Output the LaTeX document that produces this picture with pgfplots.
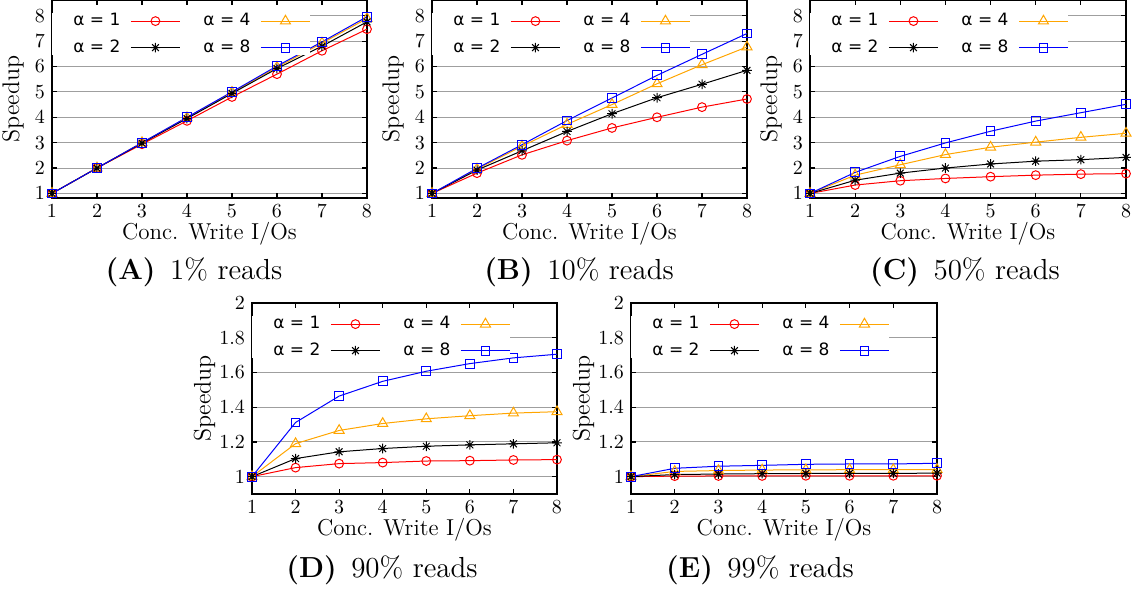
\documentclass[border=0pt]{standalone}
\usepackage{pgfplots}
\pgfplotsset{compat=1.18}
\usepackage{fontspec}
\newfontfamily\legfont{DejaVu Sans}
\definecolor{myorange}{RGB}{255,165,0}
\pgfdeclareplotmark{gstar}{%
  \pgfpathmoveto{\pgfqpoint{-\pgfplotmarksize}{0pt}}\pgfpathlineto{\pgfqpoint{\pgfplotmarksize}{0pt}}%
  \pgfpathmoveto{\pgfqpoint{0pt}{-\pgfplotmarksize}}\pgfpathlineto{\pgfqpoint{0pt}{\pgfplotmarksize}}%
  \pgfpathmoveto{\pgfqpoint{-.707\pgfplotmarksize}{-.707\pgfplotmarksize}}\pgfpathlineto{\pgfqpoint{.707\pgfplotmarksize}{.707\pgfplotmarksize}}%
  \pgfpathmoveto{\pgfqpoint{-.707\pgfplotmarksize}{.707\pgfplotmarksize}}\pgfpathlineto{\pgfqpoint{.707\pgfplotmarksize}{-.707\pgfplotmarksize}}%
  \pgfusepathqstroke}
\newcommand{\lpad}{\hspace*{10.5pt}}
\pgfplotsset{
  panel/.style={
    scale only axis, clip=false,
    xmin=1, xmax=8, xtick={1,...,8},
    ymajorgrids,
    grid style={gray!75, line width=0.5pt},
    axis line style={line width=0.7pt},
    tick style={line width=0.6pt, black},
    tick align=inside,
    major tick length=2.5pt,
    xlabel={Conc. Write I/Os}, ylabel={Speedup},
    tick label style={font=\fontsize{10}{10}\selectfont},
    xticklabel style={inner ysep=1pt, yshift=-2.3pt},
    xlabel style={font=\fontsize{11.5}{12}\selectfont, inner sep=1pt,
      at={(axis description cs:0.5,0)}, anchor=base, yshift=-20.5pt},
    ylabel style={font=\fontsize{12}{13}\selectfont, inner sep=0.5pt},
    legend columns=2,
    legend plot pos=right,
    legend cell align=left,
    legend style={draw=none, fill=white, at={(0,1)}, anchor=north west, yshift=-6.5pt,
      font=\legfont\fontsize{8.5}{10}\selectfont,
      inner xsep=0pt, inner ysep=0pt,
      nodes={inner sep=0pt},
      /tikz/every odd column/.append style={column sep=5pt},
      /tikz/every even column/.append style={column sep=11.5pt},
      row sep=5.5pt},
    legend image code/.code={\draw[mark repeat=2,mark phase=2] plot coordinates {(0cm,0cm) (0.43cm,0cm) (0.86cm,0cm)};},
    every axis plot/.append style={line width=0.5pt, mark size=2.2pt, mark options={solid}},
  },
  s1/.style={red, mark=o},
  s2/.style={black, mark=gstar, mark size=2.4pt},
  s4/.style={myorange, mark=triangle, mark size=2.9pt},
  s8/.style={blue, mark=square, mark size=2.2pt},
  top/.style={panel, ymin=0.82, ymax=8.62, ytick={1,...,8}, height=99pt,
    ylabel style={yshift=1.5pt}},
  bot/.style={panel, ymin=0.9, ymax=2, ytick={1,1.2,1.4,1.6,1.8,2}, height=95.5pt,
    yticklabels={1,1.2,1.4,1.6,1.8,2}, ylabel style={yshift=-2pt}},
}
\begin{document}
\begin{tikzpicture}
\useasboundingbox (0,0) rectangle (572pt,295pt);
% ---------------- A: 1% reads
\begin{axis}[top, width=157.5pt, at={(26pt,196pt)}, anchor=south west]
\addplot[s1] coordinates {(1,1) (2,2) (3,2.94) (4,3.86) (5,4.8) (6,5.7) (7,6.62) (8,7.47)};
\addlegendentry{\lpad α = 1}
\addplot[s4] coordinates {(1,1) (2,2) (3,3) (4,3.98) (5,4.98) (6,5.97) (7,6.92) (8,7.89)};
\addlegendentry{α = 4}
\addplot[s2] coordinates {(1,1) (2,2) (3,2.98) (4,3.95) (5,4.94) (6,5.92) (7,6.8) (8,7.76)};
\addlegendentry{\lpad α = 2}
\addplot[s8] coordinates {(1,1) (2,2) (3,3) (4,4) (5,5) (6,6.02) (7,6.97) (8,7.96)};
\addlegendentry{α = 8}
\end{axis}
% ---------------- B: 10% reads
\begin{axis}[top, width=157.5pt, at={(216pt,196pt)}, anchor=south west]
\addplot[s1] coordinates {(1,1) (2,1.8) (3,2.52) (4,3.08) (5,3.58) (6,4.0) (7,4.4) (8,4.72)};
\addlegendentry{\lpad α = 1}
\addplot[s4] coordinates {(1,1) (2,1.96) (3,2.86) (4,3.72) (5,4.5) (6,5.32) (7,6.07) (8,6.77)};
\addlegendentry{α = 4}
\addplot[s2] coordinates {(1,1) (2,1.92) (3,2.68) (4,3.44) (5,4.14) (6,4.77) (7,5.3) (8,5.85)};
\addlegendentry{\lpad α = 2}
\addplot[s8] coordinates {(1,1) (2,1.99) (3,2.92) (4,3.87) (5,4.76) (6,5.65) (7,6.48) (8,7.3)};
\addlegendentry{α = 8}
\end{axis}
% ---------------- C: 50% reads
\begin{axis}[top, width=158pt, at={(405pt,196pt)}, anchor=south west]
\addplot[s1] coordinates {(1,1) (2,1.33) (3,1.5) (4,1.59) (5,1.66) (6,1.72) (7,1.76) (8,1.78)};
\addlegendentry{\lpad α = 1}
\addplot[s4] coordinates {(1,1) (2,1.72) (3,2.13) (4,2.53) (5,2.82) (6,3.02) (7,3.21) (8,3.37)};
\addlegendentry{α = 4}
\addplot[s2] coordinates {(1,1) (2,1.52) (3,1.8) (4,2.0) (5,2.16) (6,2.27) (7,2.33) (8,2.42)};
\addlegendentry{\lpad α = 2}
\addplot[s8] coordinates {(1,1) (2,1.83) (3,2.46) (4,2.99) (5,3.45) (6,3.85) (7,4.18) (8,4.51)};
\addlegendentry{α = 8}
\end{axis}
% ---------------- D: 90% reads
\begin{axis}[bot, width=152.5pt, at={(126pt,48pt)}, anchor=south west]
\addplot[s1] coordinates {(1,1) (2,1.052) (3,1.075) (4,1.081) (5,1.09) (6,1.092) (7,1.096) (8,1.098)};
\addlegendentry{\lpad α = 1}
\addplot[s4] coordinates {(1,1) (2,1.19) (3,1.266) (4,1.306) (5,1.333) (6,1.351) (7,1.366) (8,1.374)};
\addlegendentry{α = 4}
\addplot[s2] coordinates {(1,1) (2,1.104) (3,1.143) (4,1.162) (5,1.175) (6,1.183) (7,1.189) (8,1.195)};
\addlegendentry{\lpad α = 2}
\addplot[s8] coordinates {(1,1) (2,1.312) (3,1.464) (4,1.549) (5,1.607) (6,1.651) (7,1.684) (8,1.705)};
\addlegendentry{α = 8}
\end{axis}
% ---------------- E: 99% reads
\begin{axis}[bot, width=153pt, at={(315.5pt,48pt)}, anchor=south west]
\addplot[s1] coordinates {(1,1) (2,1.003) (3,1.004) (4,1.004) (5,1.005) (6,1.005) (7,1.005) (8,1.005)};
\addlegendentry{\lpad α = 1}
\addplot[s4] coordinates {(1,1) (2,1.03) (3,1.035) (4,1.038) (5,1.039) (6,1.04) (7,1.04) (8,1.041)};
\addlegendentry{α = 4}
\addplot[s2] coordinates {(1,1) (2,1.012) (3,1.015) (4,1.017) (5,1.018) (6,1.019) (7,1.019) (8,1.02)};
\addlegendentry{\lpad α = 2}
\addplot[s8] coordinates {(1,1) (2,1.048) (3,1.06) (4,1.065) (5,1.071) (6,1.073) (7,1.073) (8,1.077)};
\addlegendentry{α = 8}
\end{axis}
% ---------------- captions
\begin{scope}[every node/.style={font=\fontsize{14.5}{16}\selectfont}]
\node at (97pt,159pt) {\textbf{(A)}\enspace 1\% reads};
\node at (289.5pt,159pt) {\textbf{(B)}\enspace 10\% reads};
\node at (482.5pt,159pt) {\textbf{(C)}\enspace 50\% reads};
\node at (191pt,10pt) {\textbf{(D)}\enspace 90\% reads};
\node at (380pt,10pt) {\textbf{(E)}\enspace 99\% reads};
\end{scope}
\end{tikzpicture}
\end{document}
